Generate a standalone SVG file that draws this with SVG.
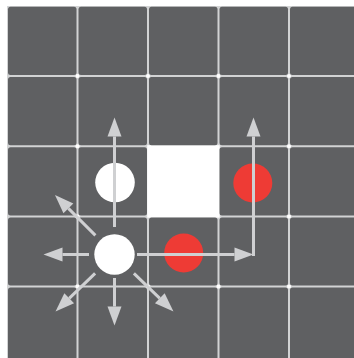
<svg xmlns="http://www.w3.org/2000/svg" width="354" height="358" viewBox="0 0 354 358">
  <style>
    .cell { fill: #5f6062; }
    .dot { fill: #ffffff; }
    .conn { stroke: #cfd0d2; stroke-width: 3; fill: none; marker-end: url(#ah); }
  </style>
  <defs>
    <marker id="ah" markerUnits="userSpaceOnUse" markerWidth="22" markerHeight="18" refX="0" refY="8" orient="auto" overflow="visible">
      <path d="M0,1 L19,8 L0,15 z" fill="#cfd0d2"/>
    </marker>
  </defs>
  <rect width="354" height="358" fill="#ffffff"/>
  <g id="grid">
    <rect x="7" y="6" width="347" height="352" fill="#d2d3d4"/>
    <rect x="147.2" y="145.2" width="72.5" height="72.5" fill="#ffffff"/>
    <g class="dot">
      <circle cx="77.5" cy="76" r="2"/><circle cx="148" cy="76" r="2"/><circle cx="218.5" cy="76" r="2"/><circle cx="289" cy="76" r="2"/>
      <circle cx="77.5" cy="146.2" r="2"/><circle cx="289" cy="146.2" r="2"/>
      <circle cx="77.5" cy="216.4" r="2"/><circle cx="289" cy="216.4" r="2"/>
      <circle cx="77.5" cy="286.6" r="2"/><circle cx="148" cy="286.6" r="2"/><circle cx="218.5" cy="286.6" r="2"/><circle cx="289" cy="286.6" r="2"/>
    </g>
    <g class="cell">
      <rect x="8" y="6.8" width="68.5" height="68.2" rx="2.5"/>
      <rect x="78.5" y="6.8" width="68.5" height="68.2" rx="2.5"/>
      <rect x="149" y="6.8" width="68.5" height="68.2" rx="2.5"/>
      <rect x="219.5" y="6.8" width="68.5" height="68.2" rx="2.5"/>
      <rect x="290" y="6.8" width="70" height="68.2" rx="2.5"/>
      <rect x="8" y="77" width="68.5" height="68.2" rx="2.5"/>
      <rect x="78.5" y="77" width="68.5" height="68.2" rx="2.5"/>
      <rect x="149" y="77" width="68.5" height="68.2" rx="2.5"/>
      <rect x="219.5" y="77" width="68.5" height="68.2" rx="2.5"/>
      <rect x="290" y="77" width="70" height="68.2" rx="2.5"/>
      <rect x="8" y="147.2" width="68.5" height="68.2" rx="2.5"/>
      <rect x="78.5" y="147.2" width="68.5" height="68.2" rx="2.5"/>
      <rect x="219.5" y="147.2" width="68.5" height="68.2" rx="2.5"/>
      <rect x="290" y="147.2" width="70" height="68.2" rx="2.5"/>
      <rect x="8" y="217.4" width="68.5" height="68.2" rx="2.5"/>
      <rect x="78.5" y="217.4" width="68.5" height="68.2" rx="2.5"/>
      <rect x="149" y="217.4" width="68.5" height="68.2" rx="2.5"/>
      <rect x="219.5" y="217.4" width="68.5" height="68.2" rx="2.5"/>
      <rect x="290" y="217.4" width="70" height="68.2" rx="2.5"/>
      <rect x="8" y="287.6" width="68.5" height="75" rx="2.5"/>
      <rect x="78.5" y="287.6" width="68.5" height="75" rx="2.5"/>
      <rect x="149" y="287.6" width="68.5" height="75" rx="2.5"/>
      <rect x="219.5" y="287.6" width="68.5" height="75" rx="2.5"/>
      <rect x="290" y="287.6" width="70" height="75" rx="2.5"/>
    </g>
  </g>
  <g id="white-upper"><circle cx="115" cy="182.5" r="19.8" fill="#ffffff"/></g>
  <g id="red-right"><circle cx="252.8" cy="183" r="19.5" fill="#ee3b35"/></g>
  <g id="red-lower"><circle cx="183.7" cy="253" r="19.5" fill="#ee3b35"/></g>
  <g id="white-main"><circle cx="114.5" cy="254.5" r="20.2" fill="#ffffff"/></g>
  <g id="connectors">
    <line class="conn" x1="114.5" y1="227" x2="114.5" y2="136.5"/>
    <line class="conn" x1="114.5" y1="278" x2="114.5" y2="306.5"/>
    <line class="conn" x1="89" y1="254.5" x2="62.5" y2="254.5"/>
    <line class="conn" x1="137" y1="254.5" x2="234.5" y2="254.5"/>
    <line class="conn" x1="253.5" y1="256" x2="253.5" y2="136.5"/>
    <line class="conn" x1="95.4" y1="235.4" x2="68.4" y2="208.4"/>
    <line class="conn" x1="95.1" y1="273.3" x2="69.2" y2="298.3"/>
    <line class="conn" x1="133.9" y1="273.3" x2="159.8" y2="298.3"/>
  </g>
</svg>
